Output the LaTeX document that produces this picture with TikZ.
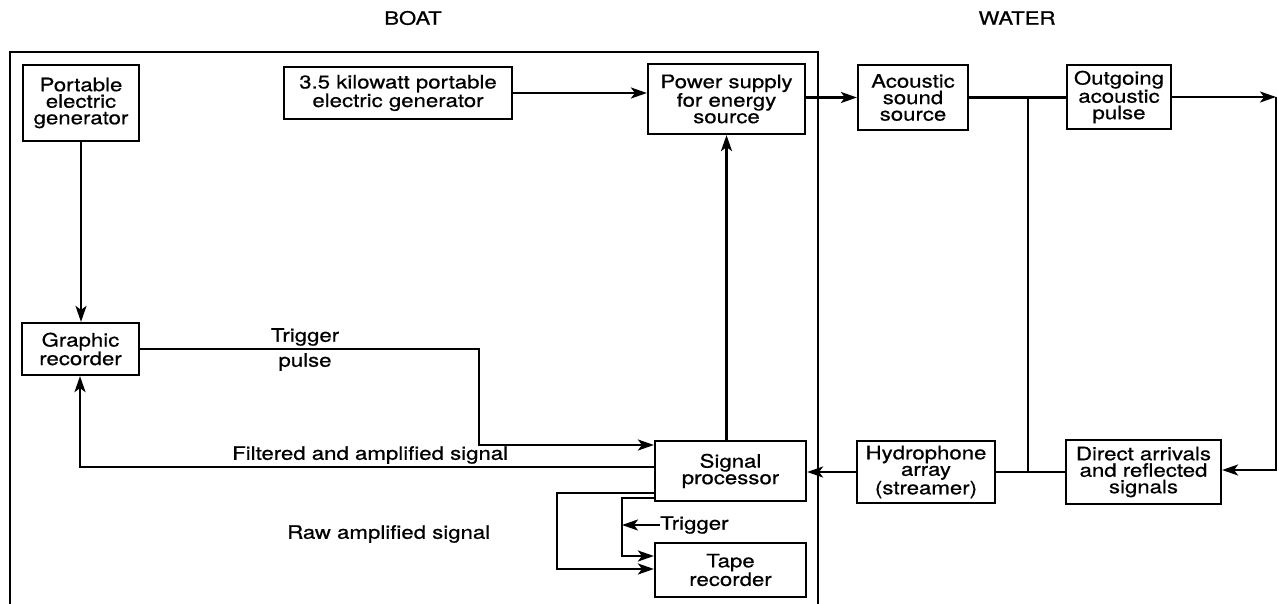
\documentclass[tikz,border=0pt]{standalone}
\usepackage{fontspec}
\setmainfont{TeX Gyre Heros}[FakeStretch=1.2,FakeBold=0.6]
\usetikzlibrary{arrows.meta}
\begin{document}
\begin{tikzpicture}[x=1pt,y=-1pt,
  box/.style={draw, line width=2.2pt, inner sep=0pt, align=center, font=\fontsize{18.5}{16.5}\selectfont},
  lbl/.style={inner sep=0pt, font=\fontsize{18.5}{16.5}\selectfont},
  ln/.style={line width=2.2pt},
  arr/.style={ln, -{Stealth[length=16pt,width=11pt,inset=4pt]}}]
\useasboundingbox (0,0) rectangle (1279,604);
% boat frame
\draw[ln] (10,604) -- (10,52) -- (818,52) -- (818,604);
% boxes
\node[box, minimum width=116pt, minimum height=76pt] (pg) at (81,103) {Portable\\electric\\generator};
\node[box, minimum width=228pt, minimum height=52pt] (kw) at (398,93) {3.5 kilowatt portable\\electric generator};
\node[box, minimum width=157pt, minimum height=70pt] (ps) at (726.5,99) {Power supply\\for energy\\source};
\node[box, minimum width=110pt, minimum height=65pt] (as) at (913,97.5) {Acoustic\\sound\\source};
\node[box, minimum width=104pt, minimum height=64pt] (op) at (1119,97) {Outgoing\\acoustic\\pulse};
\node[box, minimum width=117pt, minimum height=52pt] (gr) at (80.5,349) {Graphic\\recorder};
\node[box, minimum width=151pt, minimum height=60pt] (sp) at (730.5,471) {Signal\\processor};
\node[box, minimum width=151pt, minimum height=54pt] (tr) at (730.5,570) {Tape\\recorder};
\node[box, minimum width=138pt, minimum height=62pt] (hy) at (926,472) {Hydrophone\\array\\(streamer)};
\node[box, minimum width=155pt, minimum height=64pt] (da) at (1143.5,472) {Direct arrivals\\and reflected\\signals};
% labels
\node[lbl] (boat) at (413,18) {BOAT};
\node[lbl] (water) at (1017,18) {WATER};
\node[lbl] (trg) at (305,337) {Trigger};
\node[lbl] (pls) at (305,362) {pulse};
\node[lbl, anchor=west] (fil) at (232,455) {Filtered and amplified signal};
\node[lbl, anchor=west] (raw) at (287,534) {Raw amplified signal};
\node[lbl, anchor=west] (trg2) at (660,525) {Trigger};
% coordinates
\coordinate (j1) at (1028,97.5);
\coordinate (j2) at (1028,472);
\coordinate (c1) at (1276,97);
\coordinate (c2) at (1276,470);
\coordinate (t1) at (479,349);
\coordinate (t2) at (479,445);
\coordinate (f1) at (80,467);
\coordinate (o1) at (557,493);
\coordinate (o2) at (557,569);
\coordinate (i1) at (622,498);
\coordinate (i2) at (622,556);
% connectors
\draw[arr] (kw.east) -- (kw.east -| ps.west);
\draw[arr] (ps.east |- as.west) -- (as.west);
\draw[ln] (as.east) -- (as.east -| op.west);
\draw[ln] (j1) -- (j2);
\draw[arr] (op.east) -- (c1);
\draw[arr] (c1) -- (c2) -- (c2 -| da.east);
\draw[ln] (da.west) -- (da.west -| hy.east);
\draw[arr] (hy.west) -- (hy.west -| sp.east);
\draw[arr] (sp.north -| ps.south) -- (ps.south);
\draw[arr] (pg.south) -- (pg.south |- gr.north);
\draw[arr] (gr.east |- t1) -- (t1) -- (t2) -- (t2 -| sp.west);
\draw[arr] (sp.west |- f1) -- (f1) -- (f1 |- gr.south);
\draw[arr] (sp.west |- o1) -- (o1) -- (o2) -- (o2 -| tr.west);
\draw[arr] (sp.west |- i1) -- (i1) -- (i2) -- (i2 -| tr.west);
\draw[arr] (trg2.west) -- (trg2.west -| i1);
\end{tikzpicture}
\end{document}
